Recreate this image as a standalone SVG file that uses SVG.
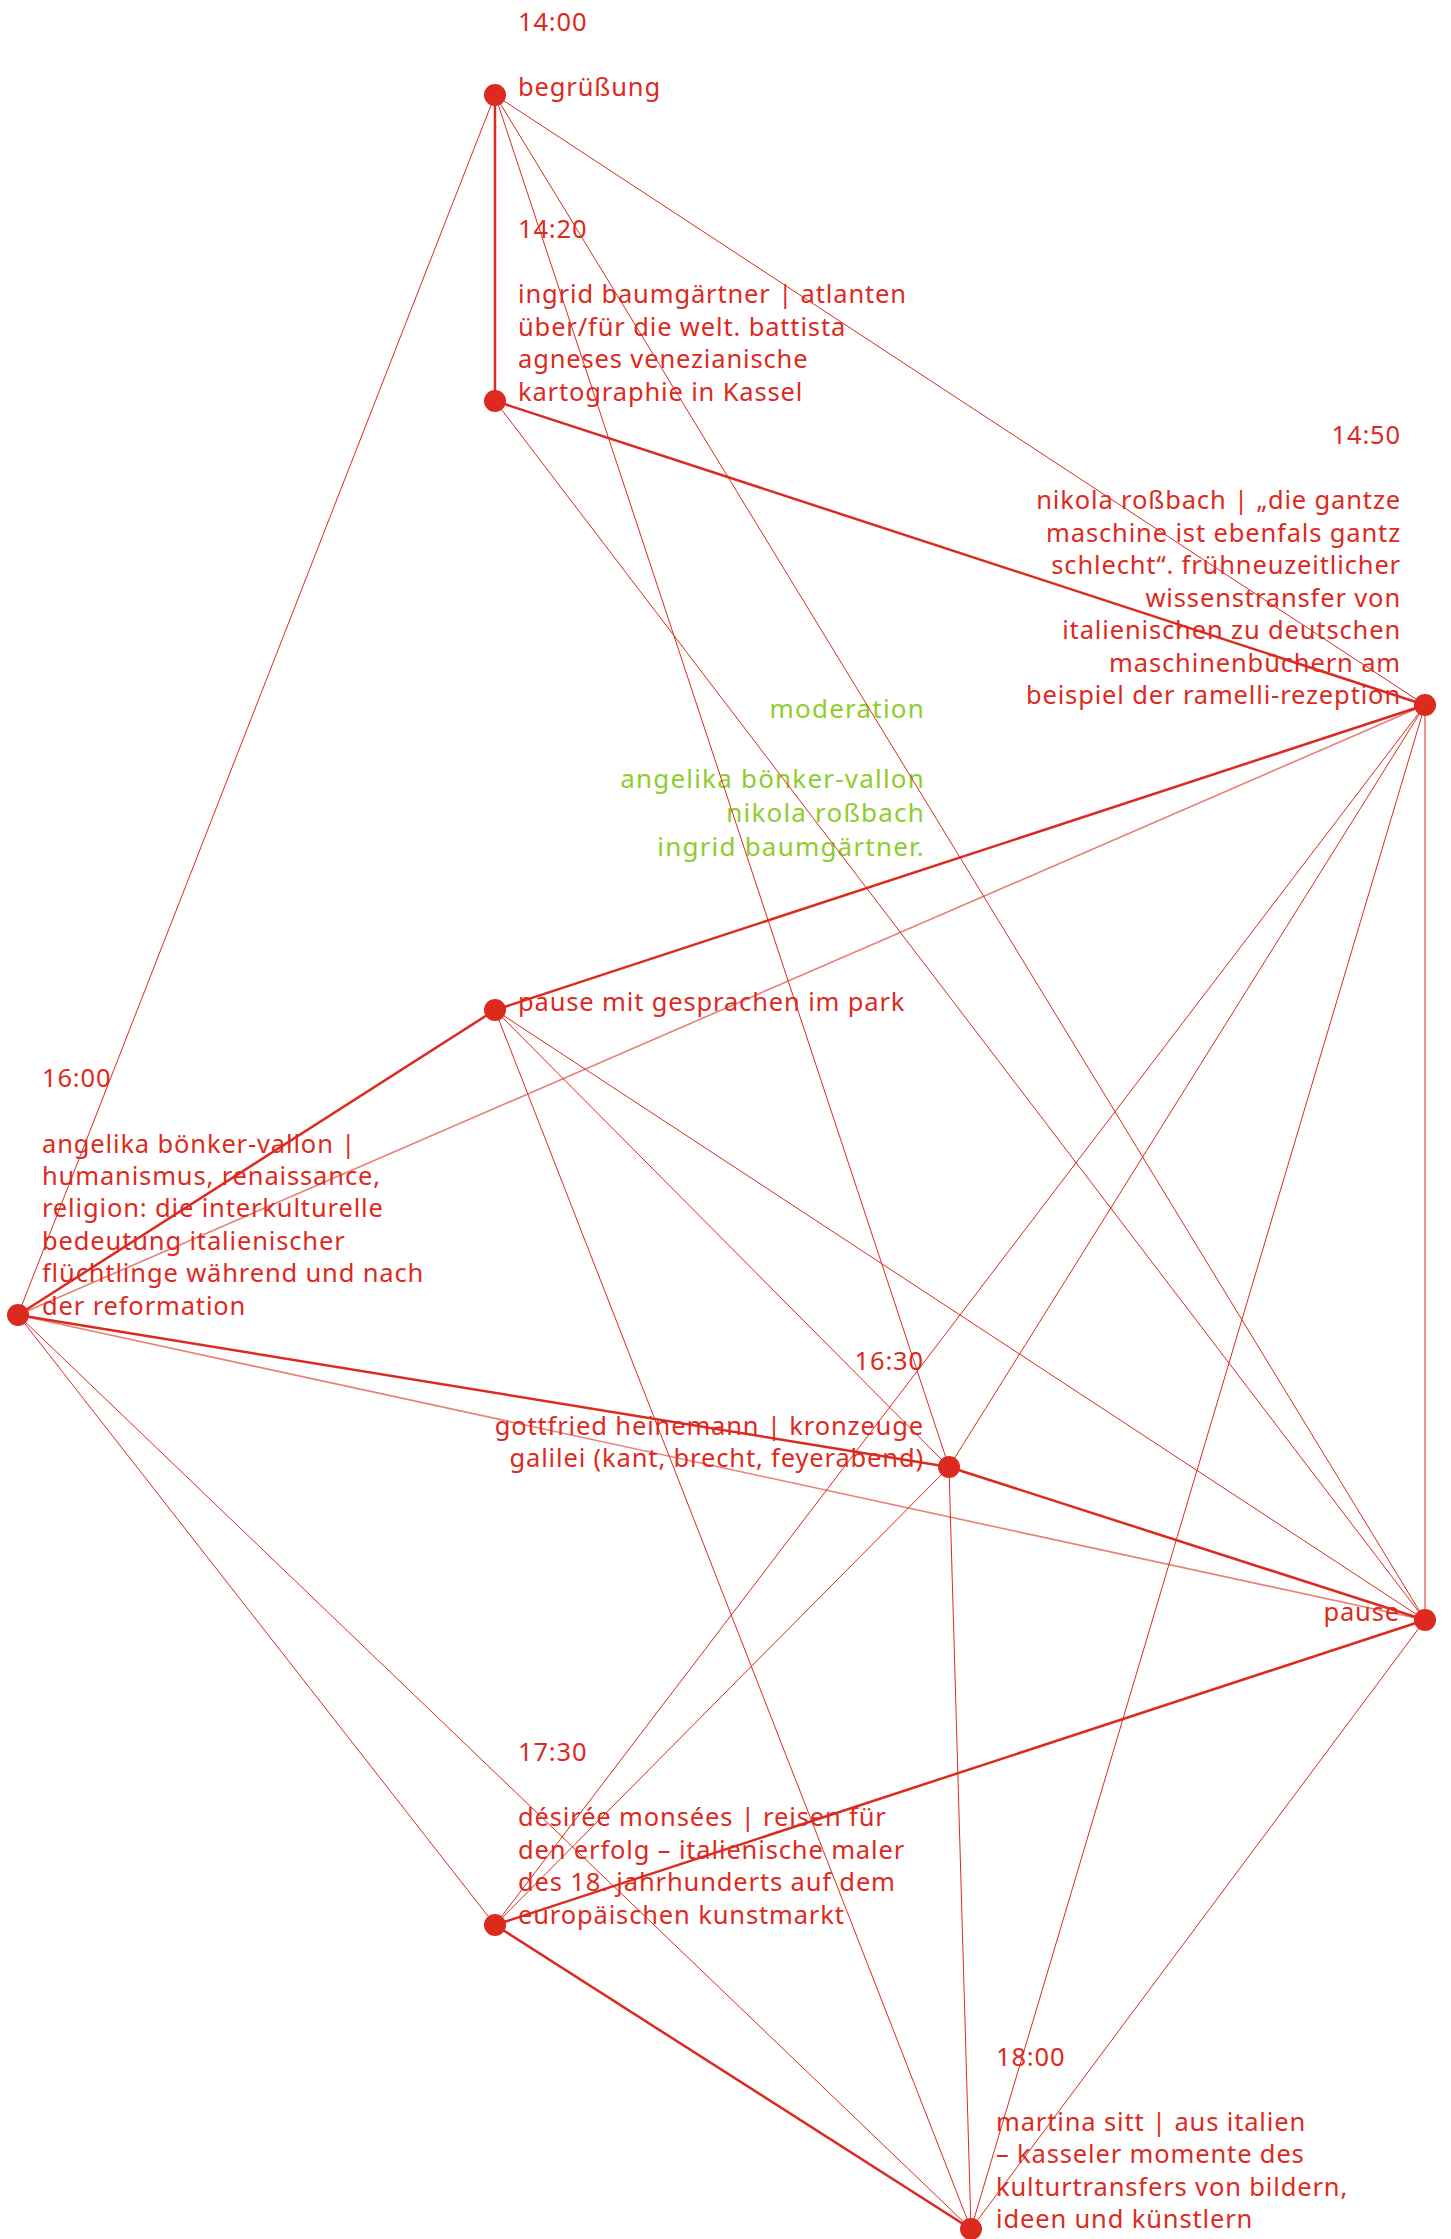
<svg xmlns="http://www.w3.org/2000/svg" width="1451" height="2239" viewBox="0 0 1451 2239">
<style>
  .t { font-family: "Noto Sans", "Open Sans", sans-serif; font-size: 25.5px; letter-spacing: 0.85px; fill: #dc2a1e; }
  .g { font-family: "Noto Sans", "Open Sans", sans-serif; font-size: 26px; letter-spacing: 1.2px; fill: #8fcc2e; }
  .e { text-anchor: end; }
  .thick { stroke: #dc2a1e; stroke-width: 2.5; fill: none; }
  .thin { stroke: #dc2a1e; stroke-width: 1; fill: none; }
  .light { stroke: #dc2a1e; stroke-width: 1.6; stroke-opacity: 0.6; fill: none; }
  .dot { fill: #dc2a1e; }
</style>
<rect width="1451" height="2239" fill="#ffffff"/>
<g id="moderation">
  <text class="g e"><tspan x="925" y="718">moderation</tspan><tspan x="925" y="788">angelika bönker-vallon</tspan><tspan x="925" y="822">nikola roßbach</tspan><tspan x="925" y="856">ingrid baumgärtner.</tspan></text>
</g>
<g id="connectors">
  <line class="thick" x1="495" y1="95" x2="495" y2="401"/>
  <line class="thick" x1="495" y1="401" x2="1425" y2="705"/>
  <line class="thick" x1="1425" y1="705" x2="495" y2="1010"/>
  <line class="thick" x1="495" y1="1010" x2="18" y2="1315"/>
  <line class="thick" x1="18" y1="1315" x2="949" y2="1467"/>
  <line class="thick" x1="949" y1="1467" x2="1425" y2="1620"/>
  <line class="thick" x1="1425" y1="1620" x2="495" y2="1925"/>
  <line class="thick" x1="495" y1="1925" x2="971" y2="2229"/>
  <line class="thin" x1="495" y1="95" x2="18" y2="1315"/>
  <line class="thin" x1="495" y1="95" x2="949" y2="1467"/>
  <line class="thin" x1="495" y1="95" x2="1425" y2="1620"/>
  <line class="thin" x1="495" y1="95" x2="1425" y2="705"/>
  <line class="thin" x1="495" y1="401" x2="1425" y2="1620"/>
  <line class="thin" x1="1425" y1="705" x2="495" y2="1925"/>
  <line class="thin" x1="1425" y1="705" x2="949" y2="1467"/>
  <line class="thin" x1="1425" y1="705" x2="971" y2="2229"/>
  <line class="thin" x1="1425" y1="705" x2="1425" y2="1620"/>
  <line class="thin" x1="495" y1="1010" x2="971" y2="2229"/>
  <line class="thin" x1="495" y1="1010" x2="949" y2="1467"/>
  <line class="thin" x1="495" y1="1010" x2="1425" y2="1620"/>
  <line class="thin" x1="18" y1="1315" x2="495" y2="1925"/>
  <line class="thin" x1="18" y1="1315" x2="971" y2="2229"/>
  <line class="thin" x1="949" y1="1467" x2="495" y2="1925"/>
  <line class="thin" x1="949" y1="1467" x2="971" y2="2229"/>
  <line class="thin" x1="1425" y1="1620" x2="971" y2="2229"/>
  <line class="light" x1="18" y1="1315" x2="1425" y2="705"/>
  <line class="light" x1="18" y1="1315" x2="1425" y2="1620"/>
</g>
<g id="n-begruessung">
  <circle class="dot" cx="495" cy="95" r="11"/>
  <text class="t"><tspan x="518" y="31">14:00</tspan><tspan x="518" y="96">begrüßung</tspan></text>
</g>
<g id="n-baumgaertner">
  <circle class="dot" cx="495" cy="401" r="11"/>
  <text class="t"><tspan x="518" y="238">14:20</tspan><tspan x="518" y="303">ingrid baumgärtner | atlanten</tspan><tspan x="518" y="336">über/für die welt. battista</tspan><tspan x="518" y="368">agneses venezianische</tspan><tspan x="518" y="401">kartographie in Kassel</tspan></text>
</g>
<g id="n-rossbach">
  <circle class="dot" cx="1425" cy="705" r="11"/>
  <text class="t e"><tspan x="1401" y="444">14:50</tspan><tspan x="1401" y="509">nikola roßbach | „die gantze</tspan><tspan x="1401" y="542">maschine ist ebenfals gantz</tspan><tspan x="1401" y="574">schlecht“. frühneuzeitlicher</tspan><tspan x="1401" y="607">wissenstransfer von</tspan><tspan x="1401" y="639">italienischen zu deutschen</tspan><tspan x="1401" y="672">maschinenbüchern am</tspan><tspan x="1401" y="704">beispiel der ramelli-rezeption</tspan></text>
</g>
<g id="n-pause1">
  <circle class="dot" cx="495" cy="1010" r="11"/>
  <text class="t"><tspan x="518" y="1011">pause mit gesprachen im park</tspan></text>
</g>
<g id="n-boenker-vallon">
  <circle class="dot" cx="18" cy="1315" r="11"/>
  <text class="t"><tspan x="42" y="1087">16:00</tspan><tspan x="42" y="1153">angelika bönker-vallon |</tspan><tspan x="42" y="1185">humanismus, renaissance,</tspan><tspan x="42" y="1217">religion: die interkulturelle</tspan><tspan x="42" y="1250">bedeutung italienischer</tspan><tspan x="42" y="1282">flüchtlinge während und nach</tspan><tspan x="42" y="1315">der reformation</tspan></text>
</g>
<g id="n-heinemann">
  <circle class="dot" cx="949" cy="1467" r="11"/>
  <text class="t e"><tspan x="924" y="1370">16:30</tspan><tspan x="924" y="1435">gottfried heinemann | kronzeuge</tspan><tspan x="924" y="1467">galilei (kant, brecht, feyerabend)</tspan></text>
</g>
<g id="n-pause2">
  <circle class="dot" cx="1425" cy="1620" r="11"/>
  <text class="t e"><tspan x="1400" y="1621">pause</tspan></text>
</g>
<g id="n-monsees">
  <circle class="dot" cx="495" cy="1925" r="11"/>
  <text class="t"><tspan x="518" y="1761">17:30</tspan><tspan x="518" y="1826">désirée monsées | reisen für</tspan><tspan x="518" y="1859">den erfolg – italienische maler</tspan><tspan x="518" y="1891">des 18. jahrhunderts auf dem</tspan><tspan x="518" y="1924">europäischen kunstmarkt</tspan></text>
</g>
<g id="n-sitt">
  <circle class="dot" cx="971" cy="2229" r="11"/>
  <text class="t"><tspan x="996" y="2066">18:00</tspan><tspan x="996" y="2131">martina sitt | aus italien</tspan><tspan x="996" y="2163">– kasseler momente des</tspan><tspan x="996" y="2196">kulturtransfers von bildern,</tspan><tspan x="996" y="2228">ideen und künstlern</tspan></text>
</g>
</svg>
